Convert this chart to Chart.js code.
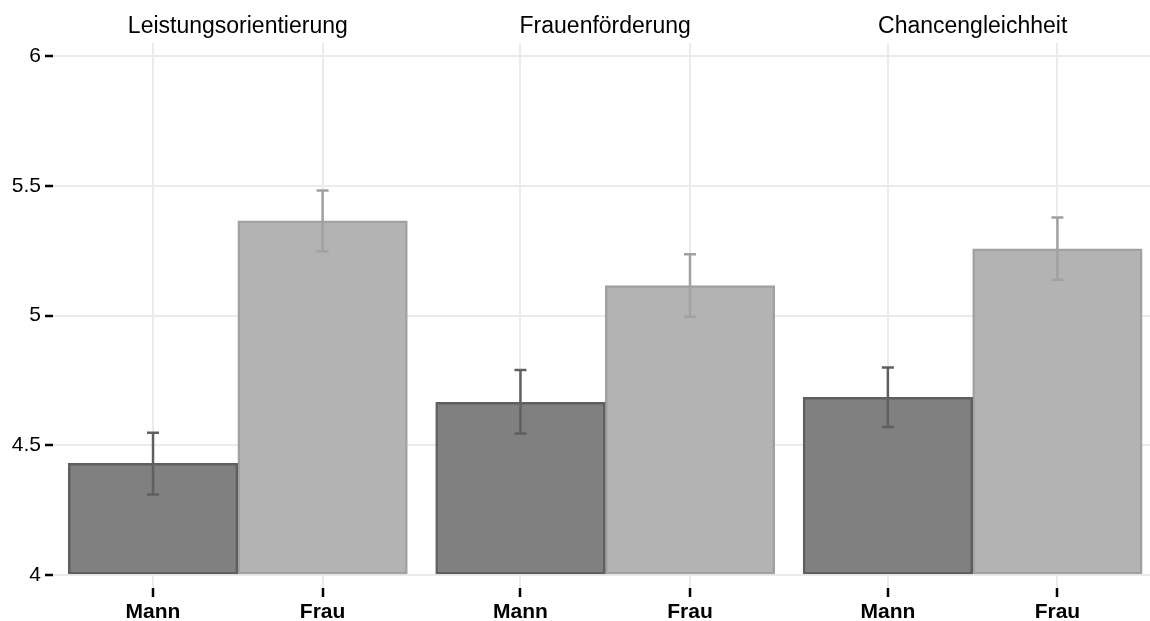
<!DOCTYPE html>
<html>
<head>
<meta charset="utf-8">
<script src="https://cdn.jsdelivr.net/npm/chart.js@4"></script>
<style>
  html, body { margin: 0; padding: 0; background: #fff; }
  #chart { display: block; }
</style>
</head>
<body>
<canvas id="chart" width="1150" height="621"></canvas>
<script>
const facets = ['Leistungsorientierung', 'Frauenförderung', 'Chancengleichheit'];
const groups = ['Mann', 'Frau'];

const mannMeans = [4.43, 4.665, 4.685];
const mannLower = [4.31, 4.545, 4.57];
const mannUpper = [4.548, 4.79, 4.80];

const frauMeans = [5.365, 5.115, 5.257];
const frauLower = [5.248, 4.995, 5.138];
const frauUpper = [5.482, 5.236, 5.378];

const yTicks = [4, 4.5, 5, 5.5, 6];
const yTickLabels = ['4', '4.5', '5', '5.5', '6'];

const panelGap = 0.167;
const panelStep = groups.length + panelGap;

const colors = {
    mannFill: '#808080',
    mannLine: '#5f5f5f',
    frauFill: '#b3b3b3',
    frauLine: '#a1a1a1',
    grid: '#ebebeb',
};

function pos(facetIndex, groupIndex) {
    return facetIndex * panelStep + groupIndex;
}

function series(values, groupIndex) {
    return values.map(function (v, i) { return { x: pos(i, groupIndex), y: v }; });
}

const tickPositions = [];
facets.forEach(function (f, i) {
    groups.forEach(function (g, j) { tickPositions.push(pos(i, j)); });
});

const errorBars = {
    id: 'errorBars',
    afterDatasetsDraw(chart) {
        const ctx = chart.ctx;
        const y = chart.scales.y;
        chart.data.datasets.forEach(function (ds, di) {
            const meta = chart.getDatasetMeta(di);
            meta.data.forEach(function (bar, i) {
                const top = y.getPixelForValue(ds.upper[i]);
                const bottom = y.getPixelForValue(ds.lower[i]);
                ctx.save();
                ctx.strokeStyle = ds.borderColor;
                ctx.lineWidth = 2.5;
                ctx.beginPath();
                ctx.moveTo(bar.x, top);
                ctx.lineTo(bar.x, bottom);
                ctx.moveTo(bar.x - 6, top);
                ctx.lineTo(bar.x + 6, top);
                ctx.moveTo(bar.x - 6, bottom);
                ctx.lineTo(bar.x + 6, bottom);
                ctx.stroke();
                ctx.restore();
            });
        });
    },
};

const facetTitles = {
    id: 'facetTitles',
    afterDraw(chart) {
        const ctx = chart.ctx;
        const x = chart.scales.x;
        ctx.save();
        ctx.fillStyle = '#000';
        ctx.font = '23px "Liberation Sans", Arial, sans-serif';
        ctx.textAlign = 'center';
        ctx.textBaseline = 'alphabetic';
        facets.forEach(function (name, i) {
            const cx = (x.getPixelForValue(pos(i, 0)) + x.getPixelForValue(pos(i, groups.length - 1))) / 2;
            ctx.fillText(name, cx, 33);
        });
        ctx.restore();
    },
};

new Chart(document.getElementById('chart'), {
    type: 'bar',
    data: {
        datasets: [{
            label: 'Mann',
            data: series(mannMeans, 0),
            lower: mannLower,
            upper: mannUpper,
            backgroundColor: colors.mannFill,
            borderColor: colors.mannLine,
        }, {
            label: 'Frau',
            data: series(frauMeans, 1),
            lower: frauLower,
            upper: frauUpper,
            backgroundColor: colors.frauFill,
            borderColor: colors.frauLine,
        }],
    },
    options: {
        responsive: false,
        animation: false,
        events: [],
        layout: { padding: { top: 43, left: 0, right: 0, bottom: 0 } },
        datasets: {
            bar: {
                grouped: false,
                base: 4,
                borderWidth: 2.5,
                borderSkipped: false,
                categoryPercentage: 1,
                barPercentage: 1,
            },
        },
        plugins: {
            legend: { display: false },
            tooltip: { enabled: false },
        },
        scales: {
            x: {
                type: 'linear',
                offset: false,
                bounds: 'data',
                min: -0.59,
                max: 5.88,
                afterBuildTicks(scale) {
                    scale.ticks = tickPositions.map(function (v) { return { value: v }; });
                },
                afterFit(scale) { scale.height = 33; },
                border: { display: false },
                grid: {
                    offset: false,
                    color: colors.grid,
                    lineWidth: 2,
                    tickColor: '#000',
                    tickLength: 9,
                    tickWidth: 2.5,
                },
                ticks: {
                    autoSkip: false,
                    maxRotation: 0,
                    padding: 3,
                    color: '#000',
                    font: { family: '"Liberation Sans", Arial, sans-serif', size: 21, weight: 'bold' },
                    callback: function (value, index) { return groups[index % groups.length]; },
                },
            },
            y: {
                min: 3.95,
                max: 6.05,
                afterBuildTicks(scale) {
                    scale.ticks = yTicks.map(function (v) { return { value: v }; });
                },
                afterFit(scale) { scale.width = 53; },
                border: { display: false },
                grid: {
                    color: colors.grid,
                    lineWidth: 2,
                    tickColor: '#000',
                    tickLength: 8,
                    tickWidth: 2.5,
                },
                ticks: {
                    padding: 4,
                    color: '#000',
                    font: { family: '"Liberation Sans", Arial, sans-serif', size: 21 },
                    callback: function (value, index) { return yTickLabels[index]; },
                },
            },
        },
    },
    plugins: [errorBars, facetTitles],
});
</script>
</body>
</html>
